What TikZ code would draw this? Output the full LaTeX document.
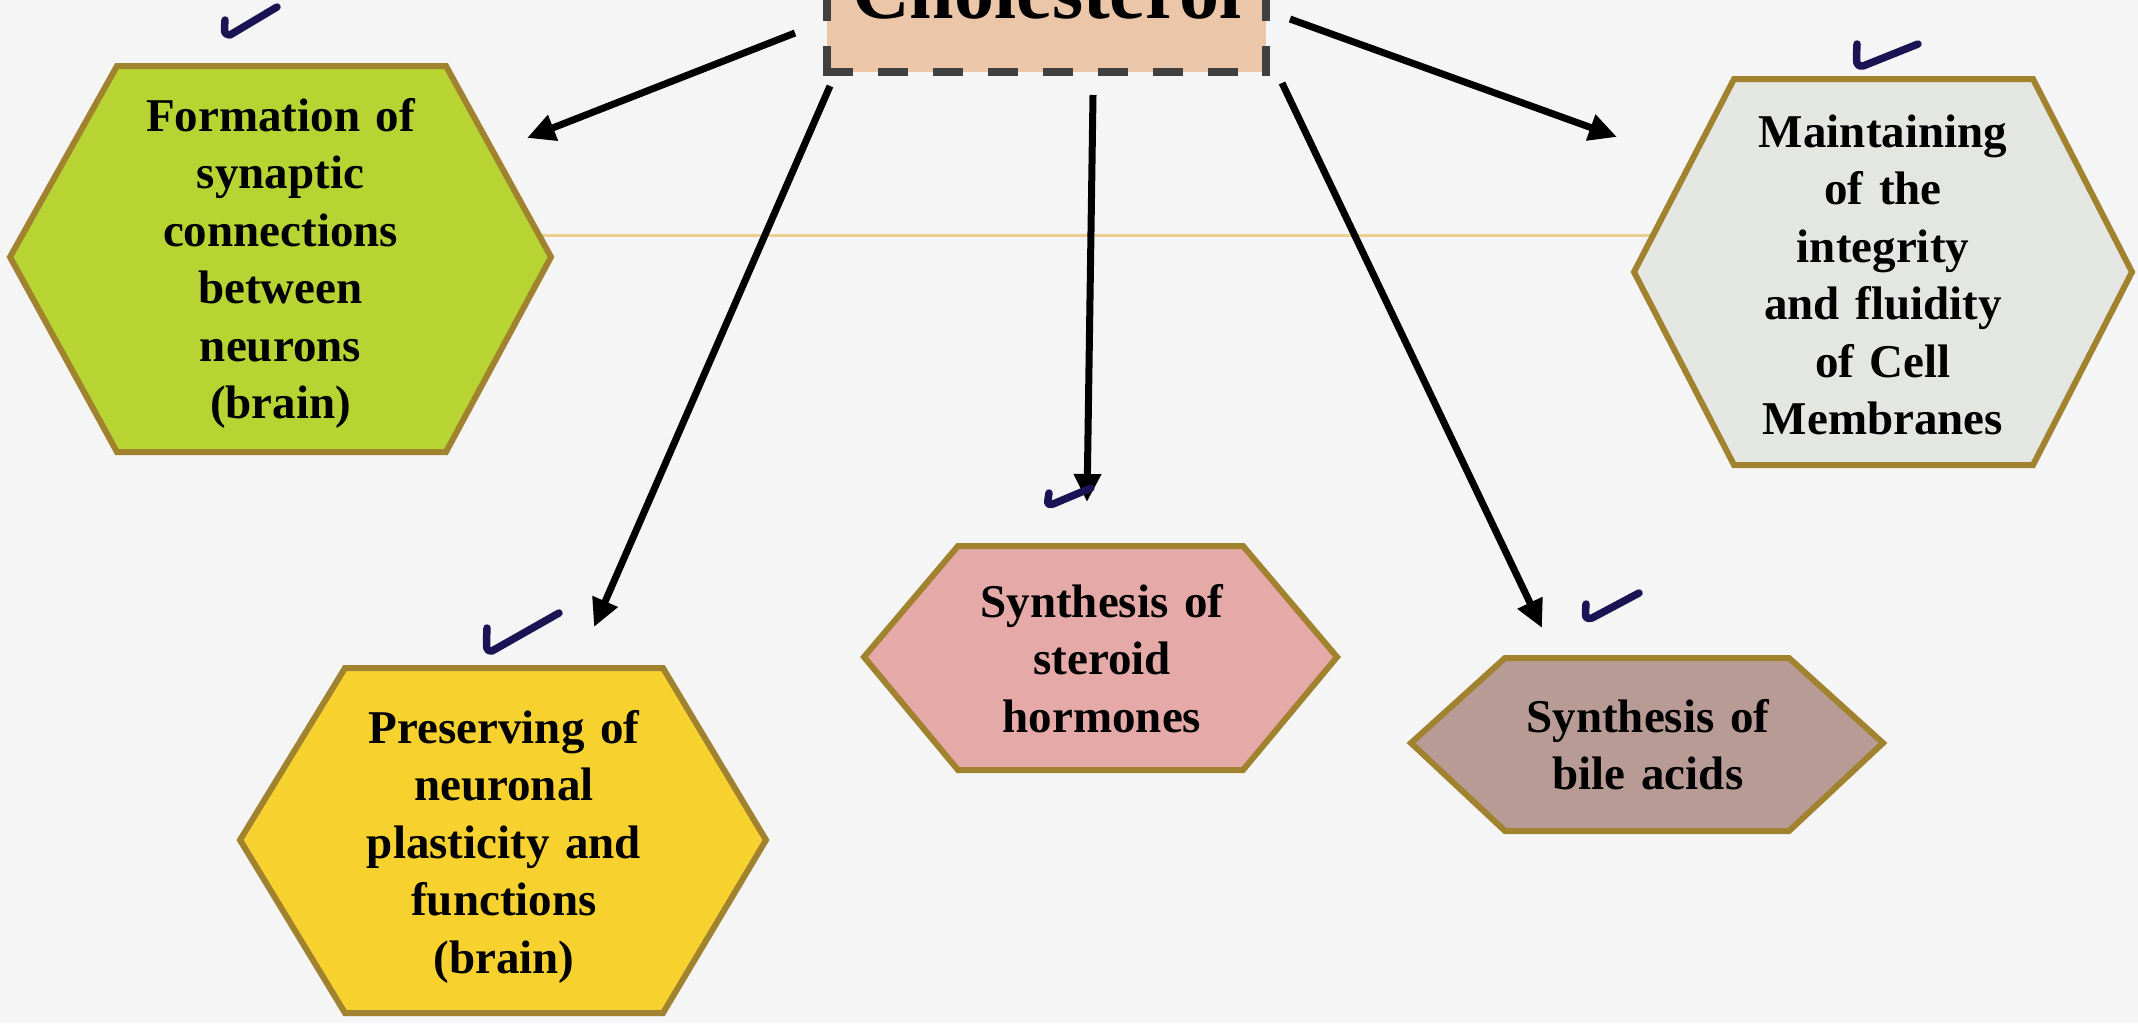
\documentclass[tikz,border=0pt]{standalone}
\usepackage{fontspec}
\setmainfont{Liberation Serif}
\usetikzlibrary{arrows.meta}
\definecolor{bgcol}{HTML}{F5F5F5}
\definecolor{hexborder}{HTML}{A0822F}
\definecolor{greenfill}{HTML}{B8D433}
\definecolor{greyfill}{HTML}{E4E7E1}
\definecolor{yellowfill}{HTML}{F7D22F}
\definecolor{pinkfill}{HTML}{E5A9A7}
\definecolor{brownfill}{HTML}{B89B95}
\definecolor{cholfill}{HTML}{EBC6A8}
\definecolor{cholborder}{HTML}{404040}
\definecolor{tickcol}{HTML}{1B1454}
\definecolor{decoline}{HTML}{E9D08E}
\begin{document}
\begin{tikzpicture}[x=1pt,y=-1pt,
  hexbox/.style={draw=hexborder, line width=6pt, line join=miter},
  hextext/.style={font=\fontsize{47}{57.5}\selectfont\bfseries, text width=460pt, align=center, anchor=base, inner sep=0pt},
  link/.style={line width=7pt, draw=black, -{Triangle[length=28pt,width=26pt]}},
  tickmark/.style={draw=tickcol, line width=7.5pt, line cap=round, line join=round},
  choledge/.style={draw=cholborder, line width=7.5pt, line cap=rect, dash pattern=on 22.5pt off 32.5pt}]
\useasboundingbox (0,0) rectangle (2138,1023);
\clip (0,0) rectangle (2138,1023);
\fill[bgcol] (0,0) rectangle (2138,1023);
% decorative line
\coordinate (dl1) at (530,235);
\coordinate (dl2) at (1660,235);
\draw[decoline, line width=3pt] (dl1) -- (dl2);
% Cholesterol box
\coordinate (cbl) at (827,72);
\coordinate (cbr) at (1266,72);
\coordinate (ctl) at (827,-80);
\coordinate (ctr) at (1266,-80);
\fill[cholfill] (ctl) rectangle (cbr);
\draw[choledge] (cbl) -- (ctl);
\draw[choledge] (cbl) -- (cbr);
\draw[choledge] (cbr) -- (ctr);
\node[font=\fontsize{80}{90}\selectfont\bfseries, anchor=base, inner sep=0pt] (chol) at (1047,18) {Cholesterol};
% hexagons
\draw[hexbox, fill=greenfill] (10,257) -- (117,66) -- (446,66) -- (551,257) -- (446,452) -- (117,452) -- cycle;
\draw[hexbox, fill=greyfill] (1634,272) -- (1734,79) -- (2033,79) -- (2132,272) -- (2033,465) -- (1734,465) -- cycle;
\draw[hexbox, fill=yellowfill] (240,840) -- (345,668) -- (663,668) -- (766,840) -- (663,1013) -- (345,1013) -- cycle;
\draw[hexbox, fill=pinkfill] (864,657) -- (958,546) -- (1243,546) -- (1337,657) -- (1243,770) -- (958,770) -- cycle;
\draw[hexbox, fill=brownfill] (1411,743) -- (1505,658) -- (1789,658) -- (1883,743) -- (1789,831) -- (1505,831) -- cycle;
% texts
\node[hextext] (green) at (280.5,131) {Formation of\\synaptic\\connections\\between\\neurons\\(brain)};
\node[hextext] (grey) at (1883,147) {Maintaining\\of the\\integrity\\and fluidity\\of Cell\\Membranes};
\node[hextext] (yellow) at (504,743) {Preserving of\\neuronal\\plasticity and\\functions\\(brain)};
\node[hextext] (pink) at (1102,617) {Synthesis of\\steroid\\hormones};
\node[hextext] (brown) at (1648,732) {Synthesis of\\bile acids};
% arrows
\coordinate (a1s) at (795,33);   \coordinate (a1e) at (527,138);
\coordinate (a2s) at (830,86);   \coordinate (a2e) at (594,627);
\coordinate (a3s) at (1093,95);  \coordinate (a3e) at (1087,502);
\coordinate (a4s) at (1282,83);  \coordinate (a4e) at (1542,628);
\coordinate (a5s) at (1290,19);  \coordinate (a5e) at (1617,137);
\draw[link] (a1s) -- (a1e);
\draw[link] (a2s) -- (a2e);
\draw[link] (a3s) -- (a3e);
\draw[link] (a4s) -- (a4e);
\draw[link] (a5s) -- (a5e);
% tick marks
\draw[tickmark] (225,20) .. controls (224,34) .. (230,35) -- (277,7);
\draw[tickmark] (1857,44) .. controls (1856,66) .. (1863,66) -- (1918,44);
\draw[tickmark] (487,628) .. controls (486,651) .. (492,651) -- (559,613);
\draw[tickmark] (1049,493) .. controls (1047,505) .. (1053,504) -- (1091,488);
\draw[tickmark] (1586,604) .. controls (1585,619) .. (1592,618) -- (1639,593);
\end{tikzpicture}
\end{document}
